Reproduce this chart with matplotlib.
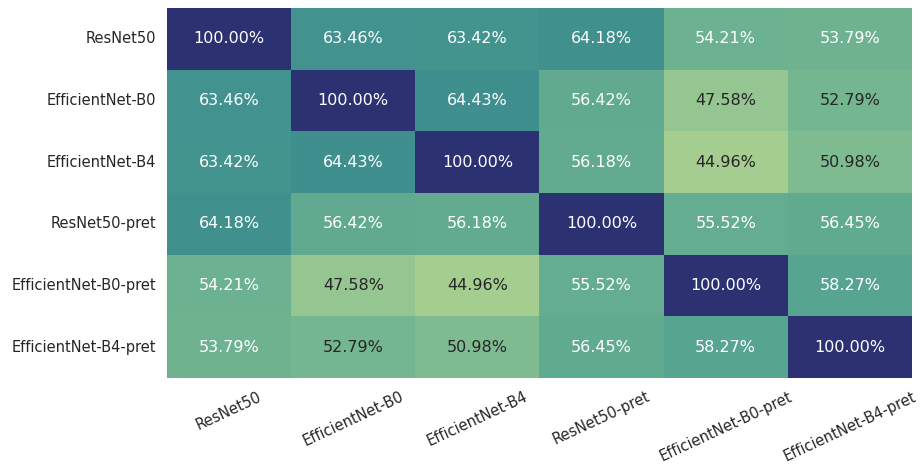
import numpy as np
import matplotlib
matplotlib.use("Agg")
import matplotlib.pyplot as plt
import seaborn as sns

# ------------------------------
# Data: pairwise agreement between models (%)
# ------------------------------
models = ["ResNet50", "EfficientNet-B0", "EfficientNet-B4",
          "ResNet50-pret", "EfficientNet-B0-pret", "EfficientNet-B4-pret"]

row_resnet50 = [100.00, 63.46, 63.42, 64.18, 54.21, 53.79]
row_effb0    = [63.46, 100.00, 64.43, 56.42, 47.58, 52.79]
row_effb4    = [63.42, 64.43, 100.00, 56.18, 44.96, 50.98]
row_res_pret = [64.18, 56.42, 56.18, 100.00, 55.52, 56.45]
row_b0_pret  = [54.21, 47.58, 44.96, 55.52, 100.00, 58.27]
row_b4_pret  = [53.79, 52.79, 50.98, 56.45, 58.27, 100.00]

mat = np.array([row_resnet50, row_effb0, row_effb4,
                row_res_pret, row_b0_pret, row_b4_pret]) / 100.0

# ------------------------------
# Plot
# ------------------------------
fig, ax = plt.subplots(figsize=(9.23, 4.68), dpi=100)
sns.heatmap(mat, ax=ax, cmap="crest", vmin=0.45, vmax=0.90,
            annot=True, fmt=".2%", cbar=False,
            xticklabels=models, yticklabels=models,
            annot_kws={"fontsize": 11.5})

# dark text on the light cells, white elsewhere
for t, v in zip(ax.texts, mat.ravel()):
    t.set_color("#262626" if v < 0.53 else "white")

ax.tick_params(length=0, labelsize=10.5, pad=8, colors="#262626")
plt.setp(ax.get_xticklabels(), rotation=25, ha="center")
plt.setp(ax.get_yticklabels(), rotation=0)

fig.subplots_adjust(left=0.181, right=0.988, top=0.983, bottom=0.192)
fig.savefig("out.png", dpi=100)
